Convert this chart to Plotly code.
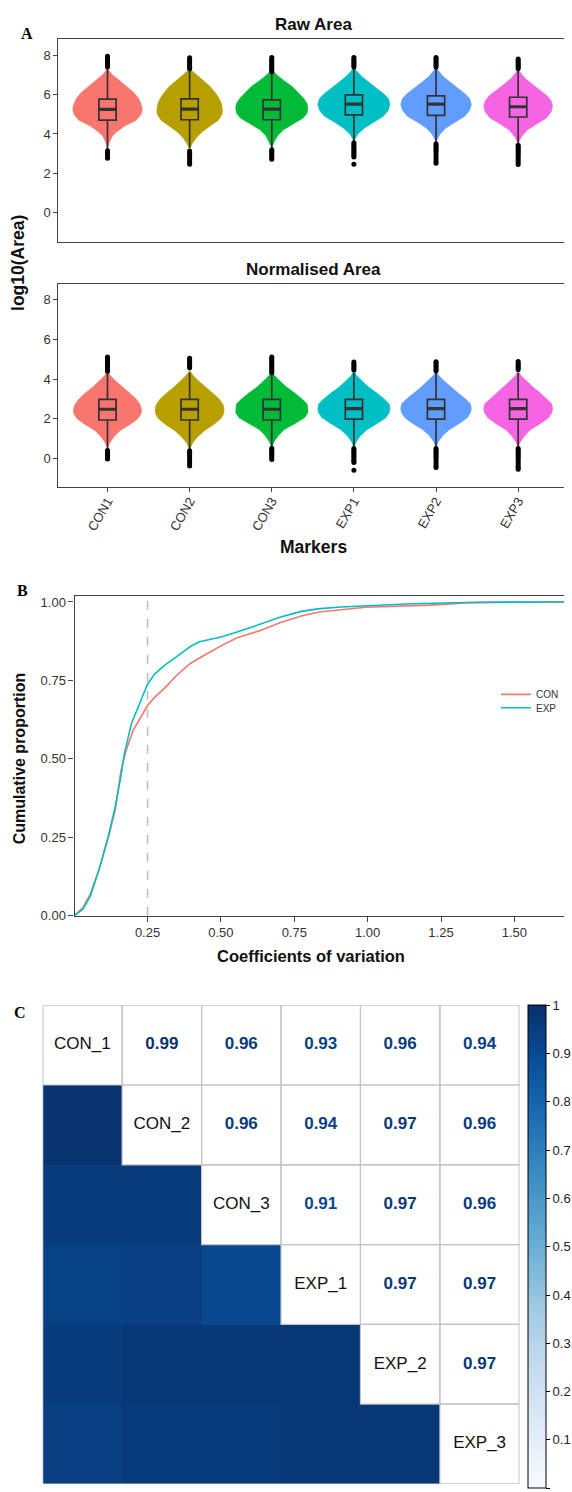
import plotly.graph_objects as go
from plotly.colors import sample_colorscale

W, H = 572, 1492
FONT = "Liberation Sans, Arial, sans-serif"

# ---------------- Panel A data ----------------
markers = ["CON1", "CON2", "CON3", "EXP1", "EXP2", "EXP3"]
group_colors = ["#F8766D", "#B79F00", "#00BA38", "#00BFC4", "#619CFF", "#F564E3"]

# violin outlines (y level, half-width in category units)
raw_violin_y = [
    [3.25, 3.6, 3.9, 4.1, 4.4, 4.7, 5.0, 5.25, 5.5, 5.8, 6.1, 6.4, 6.7, 7.0, 7.3],
    [3.2, 3.5, 3.8, 4.1, 4.4, 4.7, 5.0, 5.2, 5.5, 5.8, 6.1, 6.4, 6.7, 7.0, 7.3],
    [3.3, 3.6, 3.9, 4.2, 4.5, 4.8, 5.05, 5.3, 5.55, 5.8, 6.1, 6.4, 6.7, 7.0, 7.25],
    [3.65, 4.0, 4.3, 4.6, 4.9, 5.2, 5.5, 5.8, 6.05, 6.3, 6.6, 6.9, 7.2, 7.45],
    [3.6, 4.0, 4.3, 4.6, 4.9, 5.2, 5.5, 5.8, 6.05, 6.3, 6.6, 6.9, 7.2, 7.4],
    [3.5, 3.85, 4.2, 4.5, 4.8, 5.1, 5.4, 5.7, 5.95, 6.2, 6.5, 6.8, 7.1, 7.35],
]
raw_violin_hw = [
    [0.0, 0.025, 0.06, 0.11, 0.21, 0.35, 0.41, 0.424, 0.41, 0.38, 0.32, 0.24, 0.15, 0.06, 0.0],
    [0.0, 0.03, 0.08, 0.15, 0.25, 0.35, 0.395, 0.40, 0.39, 0.36, 0.31, 0.25, 0.17, 0.08, 0.0],
    [0.0, 0.03, 0.07, 0.14, 0.26, 0.38, 0.43, 0.44, 0.43, 0.39, 0.32, 0.25, 0.15, 0.06, 0.0],
    [0.0, 0.05, 0.13, 0.24, 0.36, 0.42, 0.44, 0.42, 0.36, 0.28, 0.19, 0.10, 0.03, 0.0],
    [0.0, 0.05, 0.12, 0.23, 0.35, 0.41, 0.43, 0.41, 0.35, 0.27, 0.18, 0.09, 0.03, 0.0],
    [0.0, 0.04, 0.11, 0.22, 0.34, 0.40, 0.42, 0.40, 0.35, 0.27, 0.18, 0.09, 0.03, 0.0],
]
norm_violin_y = [
    [0.5, 0.8, 1.1, 1.4, 1.7, 2.0, 2.25, 2.45, 2.7, 3.0, 3.3, 3.6, 3.9, 4.2, 4.45],
    [0.45, 0.8, 1.1, 1.4, 1.7, 2.0, 2.25, 2.45, 2.7, 3.0, 3.3, 3.6, 3.9, 4.2, 4.45],
    [0.55, 0.85, 1.15, 1.45, 1.75, 2.05, 2.3, 2.5, 2.75, 3.0, 3.3, 3.6, 3.9, 4.2, 4.4],
    [0.55, 0.85, 1.15, 1.45, 1.75, 2.05, 2.3, 2.5, 2.75, 3.0, 3.3, 3.6, 3.9, 4.2, 4.45],
    [0.55, 0.85, 1.15, 1.45, 1.75, 2.05, 2.3, 2.5, 2.75, 3.0, 3.3, 3.6, 3.9, 4.2, 4.45],
    [0.55, 0.85, 1.15, 1.45, 1.75, 2.05, 2.3, 2.5, 2.75, 3.0, 3.3, 3.6, 3.9, 4.2, 4.45],
]
norm_violin_hw = [
    [0.0, 0.03, 0.08, 0.15, 0.27, 0.37, 0.41, 0.416, 0.40, 0.35, 0.27, 0.18, 0.10, 0.03, 0.0],
    [0.0, 0.04, 0.10, 0.18, 0.29, 0.38, 0.415, 0.42, 0.41, 0.36, 0.28, 0.19, 0.11, 0.04, 0.0],
    [0.0, 0.03, 0.08, 0.15, 0.28, 0.40, 0.44, 0.44, 0.43, 0.37, 0.28, 0.18, 0.10, 0.03, 0.0],
    [0.0, 0.03, 0.08, 0.16, 0.28, 0.39, 0.43, 0.44, 0.43, 0.37, 0.28, 0.18, 0.10, 0.03, 0.0],
    [0.0, 0.03, 0.08, 0.16, 0.28, 0.38, 0.42, 0.43, 0.42, 0.36, 0.27, 0.18, 0.10, 0.03, 0.0],
    [0.0, 0.03, 0.08, 0.15, 0.27, 0.37, 0.41, 0.42, 0.41, 0.35, 0.27, 0.18, 0.10, 0.03, 0.0],
]

# box statistics
raw_q1 = [4.70, 4.72, 4.72, 4.97, 4.94, 4.86]
raw_median = [5.25, 5.26, 5.26, 5.51, 5.51, 5.38]
raw_q3 = [5.77, 5.78, 5.73, 5.98, 5.93, 5.86]
raw_lower = [3.22, 3.30, 3.30, 3.63, 3.55, 3.47]
raw_upper = [7.33, 7.24, 7.07, 7.32, 7.32, 7.24]
norm_q1 = [1.94, 1.94, 1.94, 1.98, 1.98, 1.98]
norm_median = [2.48, 2.48, 2.48, 2.51, 2.51, 2.51]
norm_q3 = [2.98, 2.98, 2.98, 2.98, 2.98, 2.98]
norm_lower = [0.47, 0.45, 0.55, 0.55, 0.55, 0.55]
norm_upper = [4.32, 4.32, 4.32, 4.32, 4.32, 4.32]

# outliers
raw_outliers = [
    [7.40, 7.48, 7.56, 7.64, 7.72, 7.80, 7.88, 7.94, 3.15, 3.07, 2.99, 2.91, 2.83, 2.77],
    [7.30, 7.38, 7.46, 7.54, 7.62, 7.70, 7.78, 7.86, 3.13, 3.05, 2.97, 2.89, 2.78, 2.68, 2.57, 2.47],
    [7.15, 7.23, 7.31, 7.39, 7.47, 7.55, 7.63, 7.71, 7.79, 7.87, 3.20, 3.12, 3.04, 2.96, 2.88, 2.80, 2.72],
    [7.40, 7.48, 7.56, 7.64, 7.72, 7.80, 7.88, 3.55, 3.47, 3.39, 3.31, 3.23, 3.15, 3.07, 2.99, 2.91, 2.83, 2.46],
    [7.40, 7.48, 7.56, 7.64, 7.72, 7.80, 7.88, 3.50, 3.42, 3.34, 3.26, 3.18, 3.10, 2.98, 2.86, 2.74, 2.62, 2.52],
    [7.32, 7.40, 7.48, 7.56, 7.64, 7.72, 7.80, 3.43, 3.35, 3.27, 3.19, 3.11, 3.03, 2.95, 2.85, 2.75, 2.65, 2.55, 2.45],
]
norm_outliers = [
    [4.40, 4.48, 4.56, 4.64, 4.72, 4.80, 4.88, 4.96, 5.04, 5.12, 0.40, 0.32, 0.24, 0.16, 0.08, 0.00, -0.03],
    [4.57, 4.65, 4.73, 4.81, 4.89, 4.97, 5.05, 0.39, 0.31, 0.23, 0.15, 0.05, -0.06, -0.17, -0.28, -0.38],
    [4.32, 4.40, 4.48, 4.56, 4.64, 4.72, 4.80, 4.88, 4.96, 5.04, 5.12, 0.52, 0.44, 0.36, 0.28, 0.20, 0.12, 0.04, -0.05],
    [4.46, 4.54, 4.62, 4.70, 4.78, 4.86, 0.50, 0.42, 0.34, 0.26, 0.18, 0.10, 0.02, -0.06, -0.14, -0.20, -0.59],
    [4.42, 4.50, 4.58, 4.66, 4.74, 4.82, 4.88, 0.50, 0.42, 0.34, 0.26, 0.18, 0.10, 0.02, -0.08, -0.18, -0.28, -0.38, -0.45],
    [4.49, 4.57, 4.65, 4.73, 4.81, 4.89, 0.50, 0.42, 0.34, 0.26, 0.18, 0.10, 0.02, -0.08, -0.18, -0.28, -0.38, -0.46, -0.54],
]

# ---------------- Panel B data ----------------
cdf_groups = ["CON", "EXP"]
cdf_colors = ["#F8766D", "#00BFC4"]
con_cv = [0.0, 0.03, 0.055, 0.085, 0.116, 0.14, 0.159, 0.177, 0.201, 0.226, 0.25, 0.274,
          0.311, 0.348, 0.396, 0.445, 0.50, 0.555, 0.628, 0.701, 0.774, 0.835, 0.909,
          0.994, 1.213, 1.335, 1.50, 1.67]
con_cum = [0.0, 0.026, 0.069, 0.148, 0.248, 0.338, 0.46, 0.527, 0.591, 0.633, 0.67, 0.696,
           0.728, 0.765, 0.804, 0.831, 0.86, 0.886, 0.907, 0.934, 0.955, 0.968, 0.976,
           0.983, 0.99, 0.997, 0.999, 1.0]
exp_cv = [0.0, 0.03, 0.055, 0.085, 0.116, 0.14, 0.159, 0.171, 0.195, 0.226, 0.25, 0.274,
          0.311, 0.36, 0.396, 0.427, 0.50, 0.555, 0.628, 0.701, 0.774, 0.83, 0.909,
          0.994, 1.15, 1.37, 1.50, 1.67]
exp_cum = [0.0, 0.021, 0.063, 0.148, 0.253, 0.348, 0.443, 0.517, 0.612, 0.686, 0.738, 0.77,
           0.80, 0.833, 0.858, 0.873, 0.888, 0.904, 0.928, 0.951, 0.97, 0.978, 0.984,
           0.988, 0.994, 0.9989, 0.9995, 1.0]
cv_threshold = 0.25

# ---------------- Panel C data ----------------
samples = ["CON_1", "CON_2", "CON_3", "EXP_1", "EXP_2", "EXP_3"]
corr = [
    [1.00, 0.99, 0.96, 0.93, 0.96, 0.94],
    [0.99, 1.00, 0.96, 0.94, 0.97, 0.96],
    [0.96, 0.96, 1.00, 0.91, 0.97, 0.96],
    [0.93, 0.94, 0.91, 1.00, 0.97, 0.97],
    [0.96, 0.97, 0.97, 0.97, 1.00, 0.97],
    [0.94, 0.96, 0.96, 0.97, 0.97, 1.00],
]
blues = ["#F7FBFF", "#DEEBF7", "#C6DBEF", "#9ECAE1", "#6BAED6",
         "#4292C6", "#2171B5", "#08519C", "#08306B"]
cbar_vals = [0, 0.1, 0.2, 0.3, 0.4, 0.5, 0.6, 0.7, 0.8, 0.9, 1]
cbar_text = ["0", "0.1", "0.2", "0.3", "0.4", "0.5", "0.6", "0.7", "0.8", "0.9", "1"]


def px(x):
    return x / W


def py(y):
    return 1 - y / H


fig = go.Figure()

# ---------- Panel A ----------
for panel, (vy, vhw, q1, med, q3, lo, up, outl) in enumerate([
        (raw_violin_y, raw_violin_hw, raw_q1, raw_median, raw_q3, raw_lower, raw_upper, raw_outliers),
        (norm_violin_y, norm_violin_hw, norm_q1, norm_median, norm_q3, norm_lower, norm_upper, norm_outliers)]):
    xa = "x" if panel == 0 else "x2"
    ya = "y" if panel == 0 else "y2"
    ya_over = "y5" if panel == 0 else "y6"
    for i, name in enumerate(markers):
        xs = [i + h for h in vhw[i]] + [i - h for h in reversed(vhw[i])]
        ys = list(vy[i]) + list(reversed(vy[i]))
        fig.add_trace(go.Scatter(x=xs, y=ys, fill="toself", fillcolor=group_colors[i],
                                 mode="lines", line=dict(color=group_colors[i], width=0.5),
                                 xaxis=xa, yaxis=ya, showlegend=False, hoverinfo="skip"))
    fig.add_trace(go.Box(x=list(range(len(markers))), q1=q1, median=med, q3=q3,
                         lowerfence=lo, upperfence=up, width=0.21, whiskerwidth=0,
                         orientation="v",
                         fillcolor="rgba(0,0,0,0)", line=dict(color="#333333", width=1.7),
                         boxpoints=False, xaxis=xa, yaxis=ya_over, showlegend=False))
    mx, my = [], []
    for i, m in enumerate(med):
        mx += [i - 0.105, i + 0.105, None]
        my += [m, m, None]
    fig.add_trace(go.Scatter(x=mx, y=my, mode="lines", line=dict(color="#333333", width=3.2),
                             xaxis=xa, yaxis=ya_over, showlegend=False, hoverinfo="skip"))
    ox, oy = [], []
    for i, vals in enumerate(outl):
        ox += [i] * len(vals)
        oy += vals
    fig.add_trace(go.Scatter(x=ox, y=oy, mode="markers",
                             marker=dict(color="black", size=5, line=dict(width=0)),
                             xaxis=xa, yaxis=ya_over, showlegend=False, hoverinfo="skip"))

# ---------- Panel B ----------
for k, (name, xs, ys) in enumerate([("CON", con_cv, con_cum), ("EXP", exp_cv, exp_cum)]):
    fig.add_trace(go.Scatter(x=xs, y=ys, mode="lines", name=name,
                             legend="legend" if k == 0 else "legend2",
                             line=dict(color=cdf_colors[k], width=1.6), xaxis="x3", yaxis="y3"))

fig.add_shape(type="line", x0=cv_threshold, x1=cv_threshold, y0=0, y1=1,
              xref="x3", yref="y3 domain", layer="below",
              line=dict(color="#BEBEBE", width=1.6, dash="dash"))

# ---------- Panel C ----------
n = len(samples)
zl = [[corr[i][j] if j < i else None for j in range(n)] for i in range(n)]
cscale = [[k / (len(blues) - 1), c] for k, c in enumerate(blues)]
fig.add_trace(go.Heatmap(
    z=zl, x=list(range(n)), y=list(range(n)), colorscale=cscale, zmin=0, zmax=1,
    xaxis="x4", yaxis="y4", hoverongaps=False, showscale=True,
    colorbar=dict(x=px(535.5), xanchor="left", xpad=0, y=py(1010), yanchor="top", ypad=0,
                  len=483, lenmode="pixels", thickness=17.5, thicknessmode="pixels",
                  outlinecolor="black", outlinewidth=1, ticks="outside", ticklen=4,
                  tickcolor="black", tickvals=cbar_vals, ticktext=cbar_text,
                  tickfont=dict(size=13, color="#222222", family=FONT))))

ux, uy, ut, uc = [], [], [], []
for i in range(n):
    for j in range(i + 1, n):
        ux.append(j)
        uy.append(i)
        ut.append(f"{corr[i][j]:.2f}")
        uc.append(sample_colorscale(cscale, [corr[i][j]])[0])
fig.add_trace(go.Scatter(x=ux, y=uy, text=ut, mode="text",
                         textfont=dict(size=17, color=uc, family=FONT, weight="bold"),
                         xaxis="x4", yaxis="y4", showlegend=False, hoverinfo="skip"))
fig.add_trace(go.Scatter(x=list(range(n)), y=list(range(n)), text=samples, mode="text",
                         textfont=dict(size=17, color="#111111", family=FONT),
                         xaxis="x4", yaxis="y4", showlegend=False, hoverinfo="skip"))

for i in range(n):
    for j in range(i, n):
        fig.add_shape(type="rect", x0=j - 0.5, x1=j + 0.5, y0=i - 0.5, y1=i + 0.5,
                      xref="x4", yref="y4", line=dict(color="#C4C4C4", width=1.2))
fig.add_shape(type="rect", x0=-0.5, x1=n - 0.5, y0=-0.5, y1=n - 0.5,
              xref="x4", yref="y4", line=dict(color="#C4C4C4", width=1.2))

# ---------- Layout ----------
axcol = "#444444"
tickfont = dict(size=13, color="#333333", family=FONT)
common_x = dict(showgrid=False, zeroline=False, showline=True, linecolor=axcol,
                linewidth=1.1, mirror=True)
common_y = dict(showgrid=False, zeroline=False, showline=True, linecolor=axcol,
                linewidth=1.1, ticks="outside", ticklen=4, tickcolor=axcol,
                tickwidth=1.1, tickfont=tickfont)

xr_a = [-0.597, 5.558]
yr_a = [-1.46, 8.79]

legend_style = dict(xanchor="left", yanchor="middle", bgcolor="rgba(0,0,0,0)",
                    font=dict(size=10, color="#333333", family=FONT),
                    itemwidth=30, tracegroupgap=0)

fig.update_layout(
    width=W, height=H, margin=dict(l=0, r=0, t=0, b=0),
    paper_bgcolor="white", plot_bgcolor="white",
    font=dict(family=FONT, color="#222222"),
    xaxis=dict(domain=[px(59.3), 1], range=xr_a, anchor="y", showticklabels=False,
               ticks="", **common_x),
    yaxis=dict(domain=[py(241.3), py(37.7)], range=yr_a, anchor="x",
               tickvals=[0, 2, 4, 6, 8], **common_y),
    yaxis5=dict(overlaying="y", range=yr_a, anchor="x", visible=False),
    xaxis2=dict(domain=[px(59.3), 1], range=xr_a, anchor="y2",
                tickvals=list(range(len(markers))), ticktext=markers, tickangle=-60,
                ticks="outside", ticklen=4, tickcolor=axcol, tickwidth=1.1,
                ticklabelstandoff=-4,
                tickfont=tickfont, **common_x),
    yaxis2=dict(domain=[py(488.7), py(284)], range=yr_a, anchor="x2",
                tickvals=[0, 2, 4, 6, 8], **common_y),
    yaxis6=dict(overlaying="y2", range=yr_a, anchor="x2", visible=False),
    xaxis3=dict(domain=[px(75.6), 1], range=[0.0013, 1.669], anchor="y3",
                tickvals=[0.25, 0.5, 0.75, 1.0, 1.25, 1.5], tickformat=".2f",
                ticks="outside", ticklen=5, tickcolor=axcol, tickwidth=1.1,
                tickfont=tickfont, **common_x),
    yaxis3=dict(domain=[py(920), py(598.3)], range=[0, 1.018], anchor="x3",
                tickvals=[0, 0.25, 0.5, 0.75, 1.0], tickformat=".2f",
                **{**common_y, "ticklen": 5}),
    xaxis4=dict(domain=[px(43.3), px(526.7)], range=[-0.5, n - 0.5], anchor="y4",
                visible=False),
    yaxis4=dict(domain=[0, py(1010)], range=[n - 0.5, -0.5], anchor="x4", visible=False),
    legend=dict(x=px(503), y=py(697), **legend_style),
    legend2=dict(x=px(503), y=py(710.5), **legend_style),
)

ann = []


def text(x, y, s, size, bold=True, angle=0, family=FONT, color="#111111"):
    ann.append(dict(x=px(x), y=py(y), xref="paper", yref="paper", text=s,
                    showarrow=False, xanchor="center", yanchor="middle", textangle=angle,
                    font=dict(size=size, family=family, color=color,
                              weight="bold" if bold else "normal")))


text(317.5, 22.7, "Raw Area", 17)
text(317.5, 269, "Normalised Area", 17)
text(317.5, 548.3, "Markers", 17.5)
text(18, 263, "log10(Area)", 17.5, angle=-90)
text(20, 761.7, "Cumulative proportion", 16, angle=-90)
text(315.7, 960, "Coefficients of variation", 16.5)
serif = "Liberation Serif, Times New Roman, serif"
text(27, 32, "A", 16, family=serif, color="black")
text(22.5, 592.5, "B", 16, family=serif, color="black")
text(20.6, 1017.5, "C", 16, family=serif, color="black")
fig.update_layout(annotations=ann)

fig.write_html("out.html", config={"displayModeBar": False},
               post_script="document.body.style.margin='0px';document.body.style.overflow='hidden';")
